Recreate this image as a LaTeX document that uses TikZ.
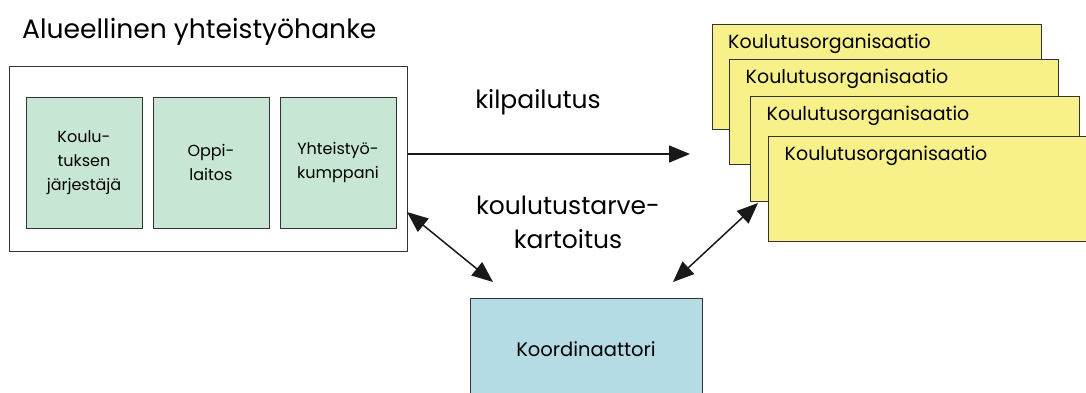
\documentclass[tikz,border=0pt]{standalone}
\usepackage{fontspec}
\setmainfont{Poppins}
\usetikzlibrary{arrows.meta,calc}
\definecolor{edge}{HTML}{333333}
\definecolor{mint}{HTML}{C8E6D4}
\definecolor{ylw}{HTML}{F8F088}
\definecolor{lblue}{HTML}{B5DBE4}
\begin{document}
\begin{tikzpicture}[x=1pt,y=-1pt,
  box/.style={draw=edge,line width=1pt,minimum width=#1,inner sep=0pt},
  green/.style={draw=edge,line width=1pt,fill=mint,minimum width=116pt,minimum height=131pt,inner sep=0pt,align=center,font=\fontsize{16}{24}\selectfont},
  org/.style={draw=edge,line width=1pt,fill=ylw,minimum width=329pt,minimum height=105pt,inner sep=0pt},
  orgtxt/.style={anchor=west,inner sep=0pt,font=\fontsize{19}{22}\selectfont},
  lbl/.style={font=\fontsize{25}{34}\selectfont,align=center,inner sep=0pt},
  arr/.style={line width=1.5pt,draw=black!90,-{Triangle[length=21pt,width=17pt]}},
  darr/.style={line width=1.5pt,draw=black!90,{Triangle[length=21pt,width=17pt]}-{Triangle[length=21pt,width=17pt]}}
]
\useasboundingbox (0,0) rectangle (1086,392);
\clip (0,0) rectangle (1086,392);
% title
\node[anchor=base west,inner sep=0pt,font=\fontsize{26.6}{30}\selectfont] (title) at (22,38) {Alueellinen yhteistyöhanke};
% outer box
\node[box=398pt,minimum height=185pt] (outer) at (208,158.5) {};
\node[green] (g1) at (84,162.5) {Koulu-\\tuksen\\järjestäjä};
\node[green] (g2) at (211,162.5) {Oppi-\\laitos};
\node[green] (g3) at (338,162.5) {Yhteistyö-\\kumppani};
% organisations
\node[org] (o1) at (877,77) {};
\node[orgtxt] (t1) at ($(o1.north west)+(16,20)$) {Koulutusorganisaatio};
\node[org] (o2) at (893.5,111.5) {};
\node[orgtxt] (t2) at ($(o2.north west)+(17,20)$) {Koulutusorganisaatio};
\node[org] (o3) at (914.5,148.5) {};
\node[orgtxt] (t3) at ($(o3.north west)+(17,20)$) {Koulutusorganisaatio};
\node[org,minimum width=332pt] (o4) at (934,188.5) {};
\node[orgtxt] (t4) at ($(o4.north west)+(17,20)$) {Koulutusorganisaatio};
% coordinator
\node[draw=edge,line width=1pt,fill=lblue,minimum width=232pt,minimum height=102pt,inner sep=0pt] (k) at (586,349) {};
\node[inner sep=0pt,font=\fontsize{19.5}{22}\selectfont] (kt) at (586,349) {Koordinaattori};
% labels
\node[lbl] (kil) at (538,102) {kilpailutus};
\node[lbl] (ktk) at (568,222) {koulutustarve-\\kartoitus};
% arrows
\coordinate (a1s) at (outer.east |- 0,154);
\coordinate (a1e) at (690,154);
\draw[arr] (a1s) -- (a1e);
\coordinate (l1) at (407,212);
\coordinate (l2) at (493,282);
\draw[darr] (l1) -- (l2);
\coordinate (r1) at (758,203);
\coordinate (r2) at (673,282);
\draw[darr] (r1) -- (r2);
\end{tikzpicture}
\end{document}
